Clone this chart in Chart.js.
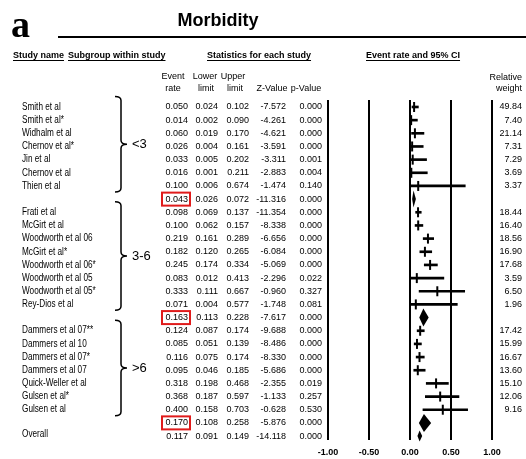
<!DOCTYPE html>
<html>
<head>
<meta charset="utf-8">
<script src="https://cdn.jsdelivr.net/npm/chart.js@4.4.1/dist/chart.umd.min.js"></script>
<style>
  html, body { margin: 0; padding: 0; background: #fff; }
  #wrap { width: 526px; height: 459px; position: relative; }
</style>
</head>
<body>
<div id="wrap"><canvas id="forest" width="526" height="459"></canvas></div>
<script>
// Study level rows
const studyNames = [
    'Smith et al', 'Smith et al*', 'Widhalm et al', 'Chernov et al*', 'Jin et al', 'Chernov et al', 'Thien et al',
    'Frati et al', 'McGirt et al', 'Woodworth et al 06', 'McGirt et al*', 'Woodworth et al 06*', 'Woodworth et al 05', 'Woodworth et al 05*', 'Rey-Dios et al',
    'Dammers et al 07**', 'Dammers et al 10', 'Dammers et al 07*', 'Dammers et al 07', 'Quick-Weller et al', 'Gulsen et al*', 'Gulsen et al'
];
const eventRate  = [0.050, 0.014, 0.060, 0.026, 0.033, 0.016, 0.100, 0.098, 0.100, 0.219, 0.182, 0.245, 0.083, 0.333, 0.071, 0.124, 0.085, 0.116, 0.095, 0.318, 0.368, 0.400];
const lowerLimit = [0.024, 0.002, 0.019, 0.004, 0.005, 0.001, 0.006, 0.069, 0.062, 0.161, 0.120, 0.174, 0.012, 0.111, 0.004, 0.087, 0.051, 0.075, 0.046, 0.198, 0.187, 0.158];
const upperLimit = [0.102, 0.090, 0.170, 0.161, 0.202, 0.211, 0.674, 0.137, 0.157, 0.289, 0.265, 0.334, 0.413, 0.667, 0.577, 0.174, 0.139, 0.174, 0.185, 0.468, 0.597, 0.703];
const zValue     = [-7.572, -4.261, -4.621, -3.591, -3.311, -2.883, -1.474, -11.354, -8.338, -6.656, -6.084, -5.069, -2.296, -0.960, -1.748, -9.688, -8.486, -8.330, -5.686, -2.355, -1.133, -0.628];
const pValue     = [0.000, 0.000, 0.000, 0.000, 0.001, 0.004, 0.140, 0.000, 0.000, 0.000, 0.000, 0.000, 0.022, 0.327, 0.081, 0.000, 0.000, 0.000, 0.000, 0.019, 0.257, 0.530];
const relWeight  = [49.84, 7.40, 21.14, 7.31, 7.29, 3.69, 3.37, 18.44, 16.40, 18.56, 16.90, 17.68, 3.59, 6.50, 1.96, 17.42, 15.99, 16.67, 13.60, 15.10, 12.06, 9.16];

// Subgroup summaries
const groupLabels = ['<3', '3-6', '>6'];
const groupSizes  = [7, 8, 7];
const groupRate   = [0.043, 0.163, 0.170];
const groupLower  = [0.026, 0.113, 0.108];
const groupUpper  = [0.072, 0.228, 0.258];
const groupZ      = [-11.316, -7.617, -5.876];
const groupP      = [0.000, 0.000, 0.000];

// Overall
const overallRate = 0.117;
const overallLower = 0.091;
const overallUpper = 0.149;
const overallZ = -14.118;
const overallP = 0.000;

const xTicks = [-1, -0.5, 0, 0.5, 1];

// row index of every line in the table
const studyRow = [];
const groupRow = [];
let row = 0;
groupSizes.forEach((n) => {
    for (let j = 0; j < n; j++) studyRow.push(row++);
    groupRow.push(row++);
});
const overallRow = row;

const summaries = groupRate.map((v, g) => ({ rate: v, lo: groupLower[g], hi: groupUpper[g], z: groupZ[g], p: groupP[g], row: groupRow[g] }));
summaries.push({ rate: overallRate, lo: overallLower, hi: overallUpper, z: overallZ, p: overallP, row: overallRow });
const diamondHalf = [8.5, 9, 9, 5.5]; // half heights (px)

const F_NUM = "9px 'Liberation Sans', Arial, sans-serif";
const F_NAME = "10px 'Liberation Sans', Arial, sans-serif";
const F_HEAD = "bold 9px 'Liberation Sans', Arial, sans-serif";

function text(ctx, s, x, y, align, font) {
    ctx.font = font;
    ctx.textAlign = align;
    ctx.fillText(s, x, y);
}

// study names are set in a condensed face in the source
function narrow(ctx, s, x, y, font) {
    ctx.save();
    ctx.translate(x, y);
    ctx.scale(0.82, 1);
    text(ctx, s, 0, 0, 'left', font);
    ctx.restore();
}

function underlined(ctx, s, x, y, font) {
    text(ctx, s, x, y, 'left', font);
    const w = ctx.measureText(s).width;
    ctx.fillRect(x, y + 2, w, 1);
}

// diamonds for the pooled estimates
const diamondPlugin = {
    id: 'diamonds',
    afterDatasetsDraw(chart) {
        const { ctx, scales: { x, y } } = chart;
        ctx.save();
        ctx.fillStyle = '#000';
        summaries.forEach((s, i) => {
            const cy = y.getPixelForValue(s.row);
            const h = diamondHalf[i];
            ctx.beginPath();
            ctx.moveTo(x.getPixelForValue(s.lo), cy);
            ctx.lineTo(x.getPixelForValue(s.rate), cy - h);
            ctx.lineTo(x.getPixelForValue(s.hi), cy);
            ctx.lineTo(x.getPixelForValue(s.rate), cy + h);
            ctx.closePath();
            ctx.fill();
        });
        ctx.restore();
    }
};

// table text, braces and headings
const tablePlugin = {
    id: 'table',
    afterDraw(chart) {
        const { ctx, scales: { y } } = chart;
        ctx.save();
        ctx.fillStyle = '#000';
        ctx.strokeStyle = '#000';
        ctx.textBaseline = 'alphabetic';

        text(ctx, 'a', 11, 37, 'left', "bold 38px 'Liberation Serif', serif");
        text(ctx, 'Morbidity', 218, 26, 'center', "bold 18px 'Liberation Sans', Arial, sans-serif");
        ctx.fillRect(58, 36, 468, 2);

        underlined(ctx, 'Study name', 13, 58, F_HEAD);
        underlined(ctx, 'Subgroup within study', 68, 58, F_HEAD);
        underlined(ctx, 'Statistics for each study', 207, 58, F_HEAD);
        underlined(ctx, 'Event rate and 95% CI', 366, 58, F_HEAD);

        text(ctx, 'Event', 173, 79, 'center', F_NUM);
        text(ctx, 'rate', 173, 91, 'center', F_NUM);
        text(ctx, 'Lower', 205, 79, 'center', F_NUM);
        text(ctx, 'limit', 206, 91, 'center', F_NUM);
        text(ctx, 'Upper', 233, 79, 'center', F_NUM);
        text(ctx, 'limit', 235, 91, 'center', F_NUM);
        text(ctx, 'Z-Value', 272, 91, 'center', F_NUM);
        text(ctx, 'p-Value', 306, 91, 'center', F_NUM);
        text(ctx, 'Relative', 522, 80, 'right', F_NUM);
        text(ctx, 'weight', 522, 91, 'right', F_NUM);

        ctx.textBaseline = 'middle';
        studyNames.forEach((name, i) => {
            const cy = y.getPixelForValue(studyRow[i]);
            narrow(ctx, name, 22, cy, F_NAME);
            text(ctx, eventRate[i].toFixed(3), 188, cy, 'right', F_NUM);
            text(ctx, lowerLimit[i].toFixed(3), 218, cy, 'right', F_NUM);
            text(ctx, upperLimit[i].toFixed(3), 249, cy, 'right', F_NUM);
            text(ctx, zValue[i].toFixed(3), 286, cy, 'right', F_NUM);
            text(ctx, pValue[i].toFixed(3), 322, cy, 'right', F_NUM);
            text(ctx, relWeight[i].toFixed(2), 522, cy, 'right', F_NUM);
        });

        summaries.forEach((s, i) => {
            const cy = y.getPixelForValue(s.row);
            if (i === summaries.length - 1) narrow(ctx, 'Overall', 22, cy - 2, F_NAME);
            text(ctx, s.rate.toFixed(3), 188, cy, 'right', F_NUM);
            text(ctx, s.lo.toFixed(3), 218, cy, 'right', F_NUM);
            text(ctx, s.hi.toFixed(3), 249, cy, 'right', F_NUM);
            text(ctx, s.z.toFixed(3), 286, cy, 'right', F_NUM);
            text(ctx, s.p.toFixed(3), 322, cy, 'right', F_NUM);
            if (i < groupLabels.length) {
                ctx.strokeStyle = '#e01b1b';
                ctx.lineWidth = 2;
                ctx.strokeRect(162, cy - 6.5, 28, 13);
                ctx.strokeStyle = '#000';
            }
        });

        // curly braces grouping the subgroups
        ctx.lineWidth = 1.5;
        groupLabels.forEach((label, g) => {
            const first = studyRow[groupSizes.slice(0, g).reduce((a, b) => a + b, 0)];
            const last = first + groupSizes[g] - 1;
            const top = y.getPixelForValue(first - 0.8);
            const bot = y.getPixelForValue(last + 0.45);
            const mid = (top + bot) / 2;
            const bx = 121;
            ctx.beginPath();
            ctx.moveTo(115, top);
            ctx.quadraticCurveTo(bx, top, bx, top + 4);
            ctx.lineTo(bx, mid - 4);
            ctx.quadraticCurveTo(bx, mid, 127, mid);
            ctx.quadraticCurveTo(bx, mid, bx, mid + 4);
            ctx.lineTo(bx, bot - 4);
            ctx.quadraticCurveTo(bx, bot, 115, bot);
            ctx.stroke();
            text(ctx, label, 132, mid, 'left', "13px 'Liberation Sans', Arial, sans-serif");
        });
        ctx.restore();
    }
};

new Chart(document.getElementById('forest'), {
    type: 'scatter',
    data: {
        datasets: [
            {
                type: 'bar',
                indexAxis: 'y',
                data: studyNames.map((_, i) => ({ x: [lowerLimit[i], upperLimit[i]], y: studyRow[i] })),
                backgroundColor: '#000',
                borderWidth: 0,
                barThickness: 2
            },
            {
                type: 'scatter',
                data: studyNames.map((_, i) => ({ x: eventRate[i], y: studyRow[i] })),
                pointStyle: 'line',
                rotation: 90,
                pointRadius: 5,
                borderWidth: 2,
                borderColor: '#000',
                backgroundColor: '#000'
            }
        ]
    },
    options: {
        responsive: false,
        animation: false,
        events: [],
        layout: { padding: { left: 328, right: 34, top: 100, bottom: 0 } },
        plugins: {
            legend: { display: false },
            tooltip: { enabled: false }
        },
        scales: {
            x: {
                type: 'linear',
                min: -1,
                max: 1,
                afterBuildTicks: (axis) => { axis.ticks = xTicks.map(v => ({ value: v })); },
                afterFit: (axis) => { axis.height = 19; },
                grid: { color: '#000', lineWidth: 2, drawTicks: false },
                border: { display: false },
                ticks: {
                    color: '#000',
                    padding: 7,
                    font: { family: "'Liberation Sans', Arial, sans-serif", size: 9, weight: 'bold' },
                    callback: (v) => v.toFixed(2)
                }
            },
            y: {
                type: 'linear',
                reverse: true,
                offset: false,
                min: -0.53,
                max: 25.3,
                display: false
            }
        }
    },
    plugins: [diamondPlugin, tablePlugin]
});
</script>
</body>
</html>
